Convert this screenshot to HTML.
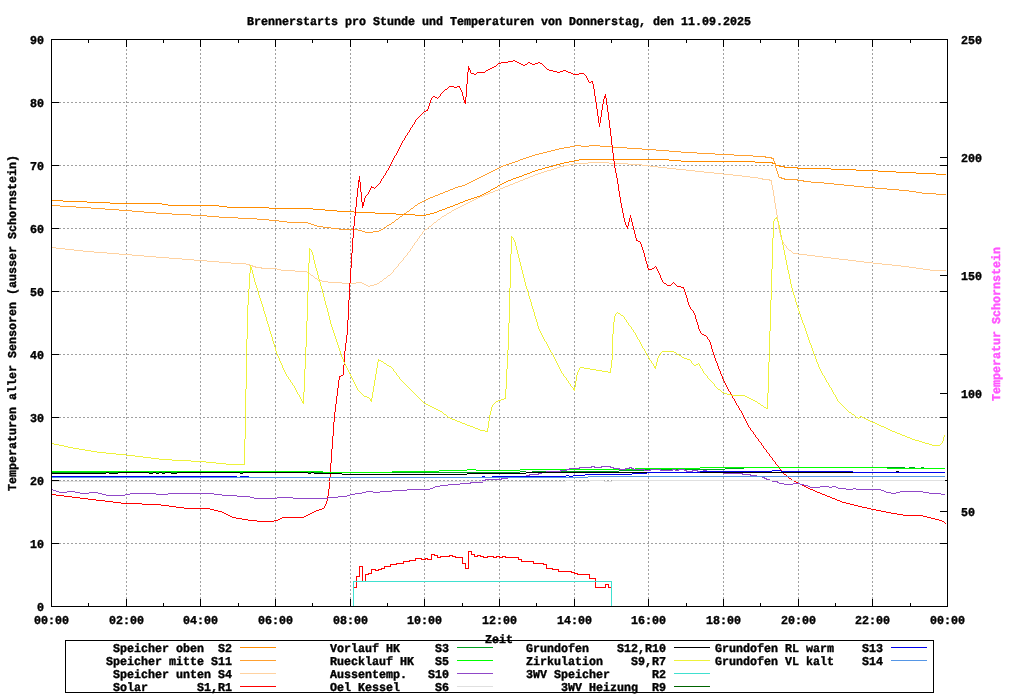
<!DOCTYPE html>
<html lang="de"><head><meta charset="utf-8"><title>Brennerstarts pro Stunde und Temperaturen</title>
<style>html,body{margin:0;padding:0;background:#fff;overflow:hidden}svg{display:block}text{font-family:"Liberation Mono","DejaVu Sans Mono",monospace;font-weight:bold;font-size:12px;white-space:pre;text-rendering:geometricPrecision;stroke-width:0.4px;stroke-linejoin:round}</style></head><body>
<svg width="1024" height="700" viewBox="0 0 1024 700">
<rect x="0" y="0" width="1024" height="700" fill="#fff"/>
<g shape-rendering="crispEdges" fill="none" stroke-linecap="butt" stroke-linejoin="miter">
<g stroke="#a0a0a0" stroke-width="1" stroke-dasharray="2 2">
<line x1="126.5" y1="607" x2="126.5" y2="39"/>
<line x1="200.5" y1="607" x2="200.5" y2="39"/>
<line x1="275.5" y1="607" x2="275.5" y2="39"/>
<line x1="350.5" y1="607" x2="350.5" y2="39"/>
<line x1="424.5" y1="607" x2="424.5" y2="39"/>
<line x1="499.5" y1="607" x2="499.5" y2="39"/>
<line x1="574.5" y1="607" x2="574.5" y2="39"/>
<line x1="648.5" y1="607" x2="648.5" y2="39"/>
<line x1="723.5" y1="607" x2="723.5" y2="39"/>
<line x1="798.5" y1="607" x2="798.5" y2="39"/>
<line x1="872.5" y1="607" x2="872.5" y2="39"/>
<line x1="51" y1="543.5" x2="948" y2="543.5"/>
<line x1="51" y1="480.5" x2="948" y2="480.5"/>
<line x1="51" y1="417.5" x2="948" y2="417.5"/>
<line x1="51" y1="354.5" x2="948" y2="354.5"/>
<line x1="51" y1="291.5" x2="948" y2="291.5"/>
<line x1="51" y1="228.5" x2="948" y2="228.5"/>
<line x1="51" y1="165.5" x2="948" y2="165.5"/>
<line x1="51" y1="102.5" x2="948" y2="102.5"/>
</g>
<g stroke="#000" stroke-width="1">
<line x1="126.5" y1="606" x2="126.5" y2="599"/>
<line x1="126.5" y1="40" x2="126.5" y2="47"/>
<line x1="200.5" y1="606" x2="200.5" y2="599"/>
<line x1="200.5" y1="40" x2="200.5" y2="47"/>
<line x1="275.5" y1="606" x2="275.5" y2="599"/>
<line x1="275.5" y1="40" x2="275.5" y2="47"/>
<line x1="350.5" y1="606" x2="350.5" y2="599"/>
<line x1="350.5" y1="40" x2="350.5" y2="47"/>
<line x1="424.5" y1="606" x2="424.5" y2="599"/>
<line x1="424.5" y1="40" x2="424.5" y2="47"/>
<line x1="499.5" y1="606" x2="499.5" y2="599"/>
<line x1="499.5" y1="40" x2="499.5" y2="47"/>
<line x1="574.5" y1="606" x2="574.5" y2="599"/>
<line x1="574.5" y1="40" x2="574.5" y2="47"/>
<line x1="648.5" y1="606" x2="648.5" y2="599"/>
<line x1="648.5" y1="40" x2="648.5" y2="47"/>
<line x1="723.5" y1="606" x2="723.5" y2="599"/>
<line x1="723.5" y1="40" x2="723.5" y2="47"/>
<line x1="798.5" y1="606" x2="798.5" y2="599"/>
<line x1="798.5" y1="40" x2="798.5" y2="47"/>
<line x1="872.5" y1="606" x2="872.5" y2="599"/>
<line x1="872.5" y1="40" x2="872.5" y2="47"/>
<line x1="88.5" y1="606" x2="88.5" y2="603"/>
<line x1="88.5" y1="40" x2="88.5" y2="43"/>
<line x1="163.5" y1="606" x2="163.5" y2="603"/>
<line x1="163.5" y1="40" x2="163.5" y2="43"/>
<line x1="238.5" y1="606" x2="238.5" y2="603"/>
<line x1="238.5" y1="40" x2="238.5" y2="43"/>
<line x1="312.5" y1="606" x2="312.5" y2="603"/>
<line x1="312.5" y1="40" x2="312.5" y2="43"/>
<line x1="387.5" y1="606" x2="387.5" y2="603"/>
<line x1="387.5" y1="40" x2="387.5" y2="43"/>
<line x1="462.5" y1="606" x2="462.5" y2="603"/>
<line x1="462.5" y1="40" x2="462.5" y2="43"/>
<line x1="536.5" y1="606" x2="536.5" y2="603"/>
<line x1="536.5" y1="40" x2="536.5" y2="43"/>
<line x1="611.5" y1="606" x2="611.5" y2="603"/>
<line x1="611.5" y1="40" x2="611.5" y2="43"/>
<line x1="686.5" y1="606" x2="686.5" y2="603"/>
<line x1="686.5" y1="40" x2="686.5" y2="43"/>
<line x1="760.5" y1="606" x2="760.5" y2="603"/>
<line x1="760.5" y1="40" x2="760.5" y2="43"/>
<line x1="835.5" y1="606" x2="835.5" y2="603"/>
<line x1="835.5" y1="40" x2="835.5" y2="43"/>
<line x1="910.5" y1="606" x2="910.5" y2="603"/>
<line x1="910.5" y1="40" x2="910.5" y2="43"/>
<line x1="52" y1="543.5" x2="59" y2="543.5"/>
<line x1="947" y1="543.5" x2="940" y2="543.5"/>
<line x1="52" y1="480.5" x2="59" y2="480.5"/>
<line x1="947" y1="480.5" x2="940" y2="480.5"/>
<line x1="52" y1="417.5" x2="59" y2="417.5"/>
<line x1="947" y1="417.5" x2="940" y2="417.5"/>
<line x1="52" y1="354.5" x2="59" y2="354.5"/>
<line x1="947" y1="354.5" x2="940" y2="354.5"/>
<line x1="52" y1="291.5" x2="59" y2="291.5"/>
<line x1="947" y1="291.5" x2="940" y2="291.5"/>
<line x1="52" y1="228.5" x2="59" y2="228.5"/>
<line x1="947" y1="228.5" x2="940" y2="228.5"/>
<line x1="52" y1="165.5" x2="59" y2="165.5"/>
<line x1="947" y1="165.5" x2="940" y2="165.5"/>
<line x1="52" y1="102.5" x2="59" y2="102.5"/>
<line x1="947" y1="102.5" x2="940" y2="102.5"/>
<line x1="947" y1="511.5" x2="940" y2="511.5"/>
<line x1="947" y1="393.5" x2="940" y2="393.5"/>
<line x1="947" y1="275.5" x2="940" y2="275.5"/>
<line x1="947" y1="157.5" x2="940" y2="157.5"/>
</g>
<path d="M579 159.5h90M574 160.5h5M669 160.5h12M569 161.5h5M681 161.5h74M564 162.5h5M755 162.5h18M560 163.5h4M772 163.5h4M556 164.5h4M553 165.5h3M776 165.5h4M549 166.5h4M779 166.5h6M545 167.5h4M784 167.5h14M542 168.5h3M797 168.5h34M538 169.5h4M831 169.5h25M535 170.5h3M856 170.5h22M532 171.5h3M878 171.5h18M530 172.5h2M896 172.5h20M527 173.5h3M916 173.5h20M524 174.5h3M936 174.5h10M522 175.5h2M519 176.5h3M516 177.5h3M513 178.5h3M511 179.5h2M508 180.5h3M506 181.5h2M504 182.5h2M502 183.5h2M500 184.5h2M498 185.5h2M495 187.5h2M493 188.5h2M491 189.5h2M488 191.5h2M486 192.5h2M484 193.5h2M482 194.5h2M480 195.5h2M477 196.5h3M474 197.5h3M471 198.5h3M468 199.5h3M51 200.5h12M465 200.5h3M63 201.5h24M463 201.5h2M87 202.5h23M460 202.5h3M110 203.5h52M458 203.5h2M162 204.5h6M455 204.5h3M168 205.5h51M453 205.5h2M219 206.5h8M450 206.5h3M227 207.5h42M447 207.5h3M269 208.5h44M445 208.5h2M313 209.5h12M442 209.5h3M325 210.5h12M439 210.5h3M337 211.5h17M437 211.5h2M354 212.5h21M434 212.5h3M375 213.5h21M430 213.5h4M396 214.5h19M426 214.5h4M415 215.5h11M490.5 190v1M497.5 186v1M775.5 164v1" stroke="#ff8c00" stroke-width="1"/>
<path d="M575 145.5h6M589 145.5h11M570 146.5h5M581 146.5h8M600 146.5h13M564 147.5h6M613 147.5h14M559 148.5h5M627 148.5h15M555 149.5h4M642 149.5h14M551 150.5h4M656 150.5h13M547 151.5h4M669 151.5h12M543 152.5h4M681 152.5h16M539 153.5h4M697 153.5h18M535 154.5h4M715 154.5h19M532 155.5h3M734 155.5h19M529 156.5h3M753 156.5h13M526 157.5h3M765 157.5h7M523 158.5h3M771 158.5h3M520 159.5h3M518 160.5h2M515 161.5h3M512 162.5h3M509 163.5h3M506 164.5h3M503 165.5h3M501 166.5h2M499 167.5h2M497 168.5h2M495 169.5h2M493 170.5h2M491 171.5h2M489 172.5h2M487 173.5h2M485 174.5h2M483 175.5h2M481 176.5h2M479 177.5h2M779 177.5h3M477 178.5h2M781 178.5h4M475 179.5h2M784 179.5h14M473 180.5h2M797 180.5h7M471 181.5h2M803 181.5h8M469 182.5h2M811 182.5h13M467 183.5h2M824 183.5h10M465 184.5h2M834 184.5h10M462 185.5h3M844 185.5h10M458 186.5h4M854 186.5h10M455 187.5h3M864 187.5h11M453 188.5h2M875 188.5h12M450 189.5h3M887 189.5h12M448 190.5h2M899 190.5h10M445 191.5h3M909 191.5h7M443 192.5h2M916 192.5h6M440 193.5h3M922 193.5h14M438 194.5h2M936 194.5h10M435 195.5h3M433 196.5h2M430 197.5h3M428 198.5h2M426 199.5h2M424 200.5h2M422 201.5h2M420 202.5h2M418 203.5h2M51 205.5h9M415 205.5h2M60 206.5h16M76 207.5h15M91 208.5h14M411 208.5h2M105 209.5h14M119 210.5h13M132 211.5h12M407 211.5h2M144 212.5h12M156 213.5h16M404 213.5h2M172 214.5h19M191 215.5h16M207 216.5h12M400 216.5h2M219 217.5h19M238 218.5h19M257 219.5h12M396 219.5h2M269 220.5h10M279 221.5h8M287 222.5h21M392 222.5h2M308 223.5h3M311 224.5h3M389 224.5h2M314 225.5h3M387 225.5h2M317 226.5h6M323 227.5h8M384 227.5h2M331 228.5h8M339 229.5h19M381 229.5h2M358 230.5h4M379 230.5h2M362 231.5h3M373 231.5h6M365 232.5h8M383.5 228v1M386.5 226v1M391.5 223v1M394.5 221v1M395.5 220v1M398.5 218v1M399.5 217v1M402.5 215v1M403.5 214v1M406.5 212v1M409.5 210v1M410.5 209v1M413.5 207v1M414.5 206v1M417.5 204v1M773.5 159v2M774.5 161v2M775.5 163v5M776.5 168v3M777.5 171v3M778.5 174v3" stroke="#ffa030" stroke-width="1"/>
<path d="M588 162.5h21M574 163.5h14M609 163.5h19M569 164.5h5M628 164.5h14M564 165.5h5M642 165.5h8M560 166.5h4M650 166.5h8M557 167.5h3M658 167.5h9M554 168.5h3M667 168.5h9M551 169.5h3M676 169.5h10M547 170.5h4M686 170.5h9M544 171.5h3M695 171.5h9M541 172.5h3M704 172.5h10M538 173.5h3M714 173.5h9M535 174.5h3M723 174.5h10M533 175.5h2M733 175.5h9M530 176.5h3M742 176.5h8M528 177.5h2M750 177.5h8M525 178.5h3M758 178.5h5M523 179.5h2M762 179.5h8M520 180.5h3M769 180.5h3M518 181.5h2M515 182.5h3M513 183.5h2M510 184.5h3M508 185.5h2M505 186.5h3M503 187.5h2M500 188.5h3M498 189.5h2M495 190.5h3M493 191.5h2M490 192.5h3M488 193.5h2M485 194.5h3M483 195.5h2M480 196.5h3M478 197.5h2M476 198.5h2M474 199.5h2M472 200.5h2M470 201.5h2M468 202.5h2M466 203.5h2M464 204.5h2M462 205.5h2M460 206.5h2M458 207.5h2M456 208.5h2M454 209.5h2M452 210.5h2M449 212.5h2M447 213.5h2M444 215.5h2M442 216.5h2M438 219.5h2M434 222.5h2M429 226.5h2M425 229.5h2M51 247.5h5M56 248.5h9M65 249.5h9M74 250.5h9M789 250.5h2M83 251.5h11M94 252.5h13M107 253.5h12M793 253.5h5M119 254.5h13M798 254.5h9M132 255.5h12M807 255.5h8M144 256.5h12M815 256.5h8M156 257.5h13M823 257.5h8M169 258.5h13M831 258.5h8M182 259.5h12M839 259.5h9M194 260.5h13M848 260.5h8M207 261.5h12M856 261.5h8M219 262.5h12M864 262.5h9M231 263.5h15M873 263.5h9M246 264.5h4M882 264.5h10M249 265.5h4M892 265.5h9M252 266.5h4M901 266.5h8M255 267.5h7M909 267.5h7M261 268.5h16M916 268.5h7M277 269.5h4M923 269.5h7M281 270.5h14M930 270.5h16M295 271.5h12M307 272.5h2M311 275.5h2M388 275.5h2M315 278.5h2M384 278.5h2M318 280.5h4M322 281.5h6M380 281.5h2M328 282.5h14M356 282.5h6M342 283.5h14M362 283.5h2M377 283.5h2M364 284.5h2M374 284.5h3M366 285.5h2M370 285.5h4M368 286.5h2M309.5 273v1M310.5 274v1M313.5 276v1M314.5 277v1M317.5 279v1M379.5 282v1M382.5 280v1M383.5 279v1M386.5 277v1M387.5 276v1M390.5 274v1M391.5 273v1M392.5 272v1M393.5 270v2M394.5 269v1M395.5 268v1M396.5 267v1M397.5 266v1M398.5 264v2M399.5 263v1M400.5 262v1M401.5 261v1M402.5 260v1M403.5 258v2M404.5 257v1M405.5 256v1M406.5 255v1M407.5 253v2M408.5 252v1M409.5 251v1M410.5 249v2M411.5 248v1M412.5 246v2M413.5 245v1M414.5 243v2M415.5 242v1M416.5 241v1M417.5 239v2M418.5 238v1M419.5 236v2M420.5 235v1M421.5 234v1M422.5 232v2M423.5 231v1M424.5 230v1M427.5 228v1M428.5 227v1M431.5 225v1M432.5 224v1M433.5 223v1M436.5 221v1M437.5 220v1M440.5 218v1M441.5 217v1M446.5 214v1M451.5 211v1M771.5 181v4M772.5 185v5M773.5 190v6M774.5 196v7M775.5 203v6M776.5 209v6M777.5 215v7M778.5 222v7M779.5 229v4M780.5 233v4M781.5 237v3M782.5 240v2M783.5 242v2M784.5 244v1M785.5 245v1M786.5 246v2M787.5 248v1M788.5 249v1M791.5 251v1M792.5 252v1" stroke="#ffd2a0" stroke-width="1"/>
<path d="M513 60.5h2M508 61.5h5M515 61.5h2M501 62.5h7M517 62.5h2M528 62.5h2M538 62.5h2M498 63.5h3M519 63.5h2M530 63.5h2M535 63.5h3M540 63.5h2M521 64.5h2M525 64.5h2M532 64.5h3M523 65.5h2M494 66.5h2M492 67.5h2M468 68.5h2M490 68.5h2M468 69.5h2M488 69.5h2M547 69.5h2M486 70.5h2M549 70.5h4M563 70.5h3M553 71.5h4M560 71.5h3M566 71.5h2M477 72.5h8M557 72.5h3M568 72.5h3M471 73.5h3M571 73.5h2M579 73.5h5M474 74.5h2M573 74.5h6M591 81.5h2M589 82.5h2M449 86.5h5M457 86.5h3M454 87.5h3M445 89.5h2M433 96.5h2M604 96.5h2M435 97.5h2M604 97.5h2M464 100.5h2M464 101.5h2M464 102.5h2M426 110.5h2M424 111.5h2M358 180.5h2M358 181.5h2M371 187.5h3M362 202.5h2M362 203.5h2M362 204.5h2M362 205.5h2M626 226.5h2M636 240.5h2M638 241.5h2M652 268.5h2M648 269.5h4M664 283.5h2M667 285.5h4M677 286.5h4M681 287.5h3M702 334.5h2M704 335.5h2M341 375.5h2M339 376.5h2M784 474.5h2M789 478.5h2M792 480.5h2M794 481.5h2M796 482.5h2M798 483.5h2M800 484.5h2M802 485.5h2M804 486.5h2M806 487.5h2M808 488.5h2M810 489.5h3M813 490.5h2M815 491.5h2M817 492.5h3M820 493.5h2M51 494.5h5M822 494.5h3M56 495.5h8M825 495.5h2M64 496.5h8M827 496.5h3M72 497.5h8M830 497.5h2M80 498.5h8M832 498.5h3M88 499.5h8M835 499.5h2M96 500.5h9M837 500.5h3M105 501.5h8M840 501.5h2M113 502.5h8M842 502.5h4M121 503.5h21M846 503.5h4M142 504.5h19M850 504.5h4M161 505.5h8M854 505.5h4M169 506.5h7M858 506.5h4M176 507.5h8M862 507.5h5M184 508.5h26M322 508.5h2M867 508.5h4M210 509.5h4M319 509.5h3M871 509.5h5M214 510.5h4M316 510.5h3M876 510.5h5M218 511.5h4M314 511.5h2M881 511.5h5M222 512.5h2M312 512.5h2M886 512.5h5M224 513.5h2M310 513.5h2M891 513.5h6M226 514.5h2M308 514.5h2M897 514.5h6M228 515.5h2M306 515.5h2M903 515.5h20M230 516.5h2M304 516.5h2M923 516.5h4M232 517.5h4M282 517.5h22M927 517.5h4M236 518.5h6M280 518.5h2M931 518.5h4M242 519.5h6M278 519.5h2M935 519.5h4M248 520.5h9M274 520.5h4M939 520.5h3M257 521.5h17M942 521.5h2M324.5 506v2M325.5 504v2M326.5 501v3M327.5 496v5M328.5 489v7M329.5 477v12M330.5 463v14M331.5 449v14M332.5 436v13M333.5 422v14M334.5 412v10M335.5 404v8M336.5 396v8M337.5 388v8M338.5 380v8M339.5 377v3M343.5 365v10M344.5 351v14M345.5 343v8M346.5 335v8M347.5 320v15M348.5 300v20M349.5 283v17M350.5 268v15M351.5 253v15M352.5 238v15M353.5 226v12M354.5 216v10M355.5 207v9M356.5 197v10M357.5 188v9M358.5 182v6M359.5 176v4M360.5 182v10M361.5 192v10M362.5 206v2M364.5 198v4M365.5 196v2M366.5 195v1M367.5 194v1M368.5 192v2M369.5 190v2M370.5 188v2M371.5 186v1M374.5 188v1M375.5 187v1M376.5 186v1M377.5 185v1M378.5 184v1M379.5 183v1M380.5 181v2M381.5 179v2M382.5 178v1M383.5 176v2M384.5 175v1M385.5 173v2M386.5 171v2M387.5 170v1M388.5 168v2M389.5 166v2M390.5 164v2M391.5 162v2M392.5 160v2M393.5 158v2M394.5 156v2M395.5 155v1M396.5 153v2M397.5 151v2M398.5 149v2M399.5 147v2M400.5 145v2M401.5 143v2M402.5 141v2M403.5 140v1M404.5 138v2M405.5 136v2M406.5 135v1M407.5 133v2M408.5 132v1M409.5 130v2M410.5 128v2M411.5 127v1M412.5 125v2M413.5 124v1M414.5 122v2M415.5 120v2M416.5 119v1M417.5 118v1M418.5 117v1M419.5 116v1M420.5 115v1M421.5 114v1M422.5 113v1M423.5 112v1M427.5 109v1M428.5 106v3M429.5 103v3M430.5 100v3M431.5 98v2M432.5 97v1M437.5 98v1M438.5 97v1M439.5 96v1M440.5 94v2M441.5 93v1M442.5 92v1M443.5 91v1M444.5 90v1M447.5 88v1M448.5 87v1M459.5 87v1M460.5 88v2M461.5 90v2M462.5 92v4M463.5 96v4M465.5 97v3M465.5 103v1M466.5 84v13M467.5 72v12M468.5 66v2M468.5 70v2M470.5 70v3M476.5 73v1M485.5 71v1M496.5 65v1M497.5 64v1M527.5 63v1M542.5 64v1M543.5 65v1M544.5 66v1M545.5 67v1M546.5 68v1M584.5 74v1M585.5 75v1M586.5 76v2M587.5 78v2M588.5 80v2M592.5 82v2M593.5 84v5M594.5 89v7M595.5 96v6M596.5 102v7M597.5 109v7M598.5 116v7M599.5 123v4M600.5 117v6M601.5 110v7M602.5 104v6M603.5 99v5M604.5 98v1M605.5 94v2M606.5 98v7M607.5 105v7M608.5 112v8M609.5 120v8M610.5 128v8M611.5 136v9M612.5 145v8M613.5 153v8M614.5 161v7M615.5 168v5M616.5 173v5M617.5 178v6M618.5 184v7M619.5 191v6M620.5 197v6M621.5 203v5M622.5 208v5M623.5 213v5M624.5 218v4M625.5 222v3M626.5 225v1M627.5 227v2M628.5 222v4M629.5 218v4M630.5 215v3M631.5 218v4M632.5 222v4M633.5 226v4M634.5 230v4M635.5 234v4M636.5 238v2M640.5 242v2M641.5 244v3M642.5 247v3M643.5 250v3M644.5 253v4M645.5 257v4M646.5 261v3M647.5 264v4M648.5 268v1M654.5 267v1M655.5 266v1M656.5 267v2M657.5 269v2M658.5 271v2M659.5 273v2M660.5 275v3M661.5 278v2M662.5 280v2M663.5 282v1M666.5 284v1M671.5 284v1M672.5 283v1M673.5 282v1M674.5 283v1M675.5 284v1M676.5 285v1M683.5 288v1M684.5 289v3M685.5 292v3M686.5 295v3M687.5 298v4M688.5 302v3M689.5 305v2M690.5 307v2M691.5 309v1M692.5 310v1M693.5 311v2M694.5 313v2M695.5 315v4M696.5 319v3M697.5 322v3M698.5 325v4M699.5 329v2M700.5 331v2M701.5 333v1M706.5 336v1M707.5 337v2M708.5 339v1M709.5 340v2M710.5 342v3M711.5 345v4M712.5 349v3M713.5 352v3M714.5 355v3M715.5 358v3M716.5 361v2M717.5 363v3M718.5 366v3M719.5 369v2M720.5 371v3M721.5 374v2M722.5 376v3M723.5 379v2M724.5 381v2M725.5 383v2M726.5 385v2M727.5 387v2M728.5 389v2M729.5 391v1M730.5 392v2M731.5 394v2M732.5 396v2M733.5 398v1M734.5 399v2M735.5 401v2M736.5 403v2M737.5 405v1M738.5 406v2M739.5 408v2M740.5 410v1M741.5 411v2M742.5 413v2M743.5 415v2M744.5 417v2M745.5 419v2M746.5 421v2M747.5 423v2M748.5 425v2M749.5 427v1M750.5 428v2M751.5 430v1M752.5 431v1M753.5 432v2M754.5 434v1M755.5 435v2M756.5 437v1M757.5 438v1M758.5 439v2M759.5 441v1M760.5 442v1M761.5 443v2M762.5 445v1M763.5 446v2M764.5 448v1M765.5 449v1M766.5 450v2M767.5 452v1M768.5 453v1M769.5 454v2M770.5 456v1M771.5 457v1M772.5 458v2M773.5 460v1M774.5 461v1M775.5 462v2M776.5 464v1M777.5 465v1M778.5 466v2M779.5 468v1M780.5 469v1M781.5 470v2M782.5 472v1M783.5 473v1M786.5 475v1M787.5 476v1M788.5 477v1M791.5 479v1M944.5 522v1M945.5 523v1" stroke="#ff0000" stroke-width="1"/>
<path d="M468 551.5h4M431 554.5h4M471 554.5h4M434 555.5h4M449 555.5h4M477 555.5h4M440 556.5h10M452 556.5h4M474 556.5h4M480 556.5h4M487 556.5h7M496 556.5h4M502 556.5h4M437 557.5h4M455 557.5h8M483 557.5h5M493 557.5h4M499 557.5h4M505 557.5h14M415 558.5h7M425 558.5h3M421 559.5h5M427 559.5h5M518 559.5h4M409 560.5h7M403 561.5h7M521 561.5h13M396 563.5h8M462 563.5h4M533 563.5h11M390 564.5h7M543 564.5h4M359 566.5h4M384 566.5h7M381 568.5h4M465 568.5h4M546 568.5h7M371 569.5h5M378 569.5h4M552 569.5h7M375 570.5h4M558 571.5h14M571 572.5h4M368 573.5h4M574 573.5h4M365 574.5h4M577 574.5h13M356 576.5h4M589 578.5h7M362 581.5h4M605 584.5h4M354 587.5h3M595 587.5h11M608 587.5h4M356.5 577v10M359.5 567v9M362.5 567v14M365.5 575v6M371.5 570v3M384.5 567v1M390.5 565v1M403.5 562v1M415.5 559v1M431.5 555v4M437.5 556v1M462.5 558v5M465.5 564v4M468.5 552v16M471.5 552v2M474.5 555v1M518.5 558v1M521.5 560v1M533.5 562v1M546.5 565v3M558.5 570v1M589.5 575v3M595.5 579v8M605.5 585v2M608.5 585v2" stroke="#ff0000" stroke-width="1"/>
<rect x="52" y="472" width="271" height="1" fill="#00a020" stroke="none"/>
<rect x="323" y="472" width="197" height="1" fill="#00a020" stroke="none"/>
<rect x="520" y="471" width="6" height="1" fill="#00a020" stroke="none"/>
<rect x="526" y="472" width="6" height="1" fill="#00a020" stroke="none"/>
<rect x="532" y="471" width="87" height="1" fill="#00a020" stroke="none"/>
<rect x="619" y="470" width="25" height="1" fill="#00a020" stroke="none"/>
<rect x="644" y="469" width="81" height="1" fill="#00a020" stroke="none"/>
<rect x="725" y="468" width="19" height="1" fill="#00a020" stroke="none"/>
<rect x="744" y="467" width="143" height="1" fill="#00a020" stroke="none"/>
<rect x="887" y="467" width="18" height="1" fill="#00a020" stroke="none"/>
<rect x="909" y="467" width="6" height="1" fill="#00a020" stroke="none"/>
<rect x="921" y="467" width="3" height="1" fill="#00a020" stroke="none"/>
<rect x="52" y="471" width="271" height="1" fill="#00ff00" stroke="none"/>
<rect x="323" y="472" width="69" height="1" fill="#00ff00" stroke="none"/>
<rect x="392" y="471" width="47" height="1" fill="#00ff00" stroke="none"/>
<rect x="439" y="470" width="28" height="1" fill="#00ff00" stroke="none"/>
<rect x="467" y="469" width="9" height="1" fill="#00ff00" stroke="none"/>
<rect x="476" y="470" width="44" height="1" fill="#00ff00" stroke="none"/>
<rect x="520" y="469" width="115" height="1" fill="#00ff00" stroke="none"/>
<rect x="635" y="468" width="65" height="1" fill="#00ff00" stroke="none"/>
<rect x="700" y="467" width="187" height="1" fill="#00ff00" stroke="none"/>
<rect x="887" y="468" width="58" height="1" fill="#00ff00" stroke="none"/>
<path d="M591 466.5h4M601 466.5h10M579 467.5h13M594 467.5h8M610 467.5h4M629 467.5h3M569 468.5h11M613 468.5h7M625 468.5h5M631 468.5h3M566 469.5h4M619 469.5h7M633 469.5h12M650 469.5h11M672 469.5h4M678 469.5h7M560 470.5h7M644 470.5h7M660 470.5h13M675 470.5h4M684 470.5h3M692 470.5h6M703 470.5h4M546 471.5h15M686 471.5h7M697 471.5h7M706 471.5h7M541 472.5h6M712 472.5h12M538 473.5h4M723 473.5h20M529 474.5h10M742 474.5h9M526 475.5h4M750 475.5h7M515 476.5h12M756 476.5h7M507 477.5h9M762 477.5h3M501 478.5h7M764 478.5h3M485 479.5h17M766 479.5h4M482 480.5h4M769 480.5h4M772 481.5h6M470 482.5h13M777 482.5h2M460 483.5h11M779 483.5h5M793 483.5h7M448 484.5h12M784 484.5h9M800 484.5h4M440 485.5h8M804 485.5h4M435 486.5h5M808 486.5h2M820 486.5h9M832 486.5h4M433 487.5h2M810 487.5h10M829 487.5h3M836 487.5h2M430 488.5h3M838 488.5h8M853 488.5h3M51 489.5h2M407 489.5h23M846 489.5h7M856 489.5h25M53 490.5h3M392 490.5h15M881 490.5h3M56 491.5h3M67 491.5h8M366 491.5h7M380 491.5h12M884 491.5h2M900 491.5h23M59 492.5h8M75 492.5h5M89 492.5h9M362 492.5h4M373 492.5h7M886 492.5h5M896 492.5h4M923 492.5h6M80 493.5h9M98 493.5h4M130 493.5h26M168 493.5h46M355 493.5h7M891 493.5h5M929 493.5h12M102 494.5h4M125 494.5h5M156 494.5h12M214 494.5h8M350 494.5h5M941 494.5h4M106 495.5h19M222 495.5h15M347 495.5h3M237 496.5h13M338 496.5h9M250 497.5h4M277 497.5h16M328 497.5h10M254 498.5h23M293 498.5h35M482.5 481v1" stroke="#9048c8" stroke-width="1"/>
<rect x="52" y="481" width="514" height="1" fill="#e0e0e0" stroke="none"/>
<rect x="566" y="480" width="10" height="1" fill="#e0e0e0" stroke="none"/>
<rect x="576" y="481" width="14" height="1" fill="#e0e0e0" stroke="none"/>
<rect x="590" y="480" width="14" height="1" fill="#e0e0e0" stroke="none"/>
<rect x="604" y="481" width="8" height="1" fill="#e0e0e0" stroke="none"/>
<rect x="612" y="480" width="333" height="1" fill="#e0e0e0" stroke="none"/>
<rect x="52" y="473" width="54" height="1" fill="#000" stroke="none"/>
<rect x="106" y="472" width="3" height="1" fill="#000" stroke="none"/>
<rect x="109" y="473" width="9" height="1" fill="#000" stroke="none"/>
<rect x="118" y="472" width="31" height="1" fill="#000" stroke="none"/>
<rect x="149" y="473" width="4" height="1" fill="#000" stroke="none"/>
<rect x="153" y="472" width="3" height="1" fill="#000" stroke="none"/>
<rect x="156" y="473" width="3" height="1" fill="#000" stroke="none"/>
<rect x="159" y="472" width="3" height="1" fill="#000" stroke="none"/>
<rect x="162" y="473" width="3" height="1" fill="#000" stroke="none"/>
<rect x="165" y="472" width="6" height="1" fill="#000" stroke="none"/>
<rect x="171" y="473" width="6" height="1" fill="#000" stroke="none"/>
<rect x="177" y="472" width="63" height="1" fill="#000" stroke="none"/>
<rect x="240" y="473" width="3" height="1" fill="#000" stroke="none"/>
<rect x="243" y="472" width="65" height="1" fill="#000" stroke="none"/>
<rect x="308" y="473" width="3" height="1" fill="#000" stroke="none"/>
<rect x="311" y="472" width="3" height="1" fill="#000" stroke="none"/>
<rect x="314" y="473" width="28" height="1" fill="#000" stroke="none"/>
<rect x="342" y="474" width="125" height="1" fill="#000" stroke="none"/>
<rect x="467" y="473" width="59" height="1" fill="#000" stroke="none"/>
<rect x="526" y="472" width="327" height="1" fill="#000" stroke="none"/>
<rect x="896" y="471" width="3" height="1" fill="#000" stroke="none"/>
<path d="M775 218.5h2M511 237.5h2M309 249.5h2M250 267.5h2M250 268.5h2M250 269.5h2M618 313.5h2M621 315.5h2M662 351.5h12M674 352.5h2M677 354.5h2M679 355.5h2M682 357.5h2M684 358.5h3M687 359.5h3M378 360.5h3M381 361.5h2M384 363.5h2M696 364.5h2M387 365.5h2M694 365.5h2M389 366.5h2M654 366.5h2M580 367.5h4M654 367.5h2M584 368.5h6M590 369.5h6M596 370.5h6M602 371.5h6M608 372.5h3M573 388.5h2M573 389.5h2M718 389.5h2M722 392.5h2M724 393.5h3M727 394.5h4M731 395.5h14M364 396.5h3M745 396.5h2M367 397.5h2M747 397.5h2M504 398.5h2M749 398.5h2M370 399.5h2M501 399.5h3M751 399.5h2M370 400.5h2M498 400.5h3M753 400.5h2M302 401.5h2M496 401.5h2M755 401.5h2M302 402.5h2M424 403.5h2M758 403.5h2M426 404.5h2M428 405.5h2M761 405.5h2M430 406.5h2M432 407.5h2M764 407.5h2M434 408.5h2M766 408.5h2M436 409.5h2M438 410.5h2M440 411.5h2M849 412.5h2M444 414.5h2M852 414.5h2M860 416.5h2M448 417.5h2M856 417.5h2M862 417.5h2M450 418.5h2M864 418.5h2M452 419.5h3M866 419.5h2M455 420.5h2M868 420.5h2M457 421.5h3M870 421.5h2M460 422.5h2M872 422.5h3M462 423.5h3M875 423.5h2M465 424.5h2M877 424.5h2M467 425.5h3M879 425.5h2M470 426.5h3M881 426.5h3M473 427.5h2M884 427.5h2M475 428.5h3M886 428.5h2M478 429.5h2M888 429.5h2M480 430.5h5M890 430.5h2M485 431.5h3M892 431.5h3M895 432.5h2M897 433.5h3M900 434.5h2M902 435.5h3M905 436.5h2M907 437.5h3M910 438.5h2M912 439.5h3M915 440.5h4M919 441.5h3M922 442.5h3M51 443.5h3M925 443.5h4M54 444.5h5M929 444.5h3M59 445.5h5M932 445.5h8M64 446.5h4M68 447.5h5M73 448.5h6M79 449.5h6M85 450.5h6M91 451.5h6M97 452.5h9M106 453.5h10M116 454.5h10M126 455.5h9M135 456.5h8M143 457.5h8M151 458.5h8M159 459.5h13M172 460.5h19M191 461.5h15M206 462.5h10M216 463.5h10M226 464.5h19M244.5 439v25M245.5 389v50M246.5 339v50M247.5 305v34M248.5 289v16M249.5 273v16M250.5 265v2M250.5 270v3M252.5 270v4M253.5 274v4M254.5 278v4M255.5 282v3M256.5 285v3M257.5 288v3M258.5 291v4M259.5 295v3M260.5 298v3M261.5 301v3M262.5 304v3M263.5 307v4M264.5 311v3M265.5 314v3M266.5 317v4M267.5 321v3M268.5 324v3M269.5 327v4M270.5 331v3M271.5 334v3M272.5 337v4M273.5 341v3M274.5 344v3M275.5 347v4M276.5 351v3M277.5 354v2M278.5 356v2M279.5 358v3M280.5 361v2M281.5 363v2M282.5 365v3M283.5 368v2M284.5 370v2M285.5 372v2M286.5 374v2M287.5 376v1M288.5 377v2M289.5 379v1M290.5 380v2M291.5 382v1M292.5 383v2M293.5 385v1M294.5 386v2M295.5 388v2M296.5 390v2M297.5 392v2M298.5 394v1M299.5 395v2M300.5 397v2M301.5 399v2M303.5 392v9M303.5 403v1M304.5 369v23M305.5 347v22M306.5 321v26M307.5 292v29M308.5 263v29M309.5 248v1M309.5 250v13M311.5 250v2M312.5 252v3M313.5 255v5M314.5 260v4M315.5 264v4M316.5 268v3M317.5 271v4M318.5 275v4M319.5 279v3M320.5 282v4M321.5 286v3M322.5 289v4M323.5 293v4M324.5 297v4M325.5 301v4M326.5 305v3M327.5 308v4M328.5 312v4M329.5 316v4M330.5 320v4M331.5 324v3M332.5 327v3M333.5 330v3M334.5 333v3M335.5 336v3M336.5 339v3M337.5 342v3M338.5 345v3M339.5 348v3M340.5 351v3M341.5 354v3M342.5 357v2M343.5 359v3M344.5 362v2M345.5 364v2M346.5 366v2M347.5 368v2M348.5 370v2M349.5 372v2M350.5 374v2M351.5 376v2M352.5 378v2M353.5 380v2M354.5 382v2M355.5 384v2M356.5 386v2M357.5 388v2M358.5 390v1M359.5 391v1M360.5 392v1M361.5 393v1M362.5 394v1M363.5 395v1M369.5 398v1M371.5 398v1M371.5 401v1M372.5 392v6M373.5 386v6M374.5 380v6M375.5 374v6M376.5 368v6M377.5 362v6M378.5 359v1M378.5 361v1M383.5 362v1M386.5 364v1M391.5 367v1M392.5 368v1M393.5 369v2M394.5 371v1M395.5 372v1M396.5 373v2M397.5 375v1M398.5 376v1M399.5 377v2M400.5 379v1M401.5 380v1M402.5 381v1M403.5 382v1M404.5 383v1M405.5 384v1M406.5 385v1M407.5 386v1M408.5 387v1M409.5 388v1M410.5 389v1M411.5 390v1M412.5 391v1M413.5 392v1M414.5 393v1M415.5 394v1M416.5 395v1M417.5 396v1M418.5 397v1M419.5 398v1M420.5 399v1M421.5 400v1M422.5 401v1M423.5 402v1M442.5 412v1M443.5 413v1M446.5 415v1M447.5 416v1M487.5 428v3M488.5 421v7M489.5 415v6M490.5 411v4M491.5 407v4M492.5 405v2M493.5 404v1M494.5 403v1M495.5 402v1M505.5 389v9M506.5 369v20M507.5 350v19M508.5 323v27M509.5 288v35M510.5 254v34M511.5 236v1M511.5 238v16M513.5 238v2M514.5 240v2M515.5 242v4M516.5 246v4M517.5 250v4M518.5 254v4M519.5 258v4M520.5 262v4M521.5 266v4M522.5 270v4M523.5 274v4M524.5 278v4M525.5 282v4M526.5 286v3M527.5 289v3M528.5 292v4M529.5 296v3M530.5 299v3M531.5 302v4M532.5 306v3M533.5 309v3M534.5 312v4M535.5 316v3M536.5 319v3M537.5 322v4M538.5 326v3M539.5 329v2M540.5 331v2M541.5 333v2M542.5 335v2M543.5 337v2M544.5 339v2M545.5 341v1M546.5 342v2M547.5 344v2M548.5 346v2M549.5 348v2M550.5 350v2M551.5 352v1M552.5 353v2M553.5 355v2M554.5 357v2M555.5 359v2M556.5 361v2M557.5 363v2M558.5 365v2M559.5 367v2M560.5 369v2M561.5 371v2M562.5 373v1M563.5 374v2M564.5 376v1M565.5 377v1M566.5 378v2M567.5 380v1M568.5 381v2M569.5 383v1M570.5 384v2M571.5 386v1M572.5 387v1M574.5 387v1M574.5 390v1M575.5 381v6M576.5 375v6M577.5 372v3M578.5 370v2M579.5 368v2M610.5 368v4M611.5 360v8M612.5 334v26M613.5 322v12M614.5 316v6M615.5 314v2M616.5 313v1M617.5 312v1M620.5 314v1M623.5 316v1M624.5 317v2M625.5 319v1M626.5 320v2M627.5 322v1M628.5 323v2M629.5 325v1M630.5 326v1M631.5 327v2M632.5 329v1M633.5 330v2M634.5 332v1M635.5 333v2M636.5 335v2M637.5 337v2M638.5 339v1M639.5 340v2M640.5 342v2M641.5 344v2M642.5 346v2M643.5 348v1M644.5 349v2M645.5 351v2M646.5 353v2M647.5 355v1M648.5 356v2M649.5 358v2M650.5 360v1M651.5 361v2M652.5 363v1M653.5 364v2M655.5 368v1M656.5 362v4M657.5 358v4M658.5 356v2M659.5 355v1M660.5 353v2M661.5 352v1M676.5 353v1M681.5 356v1M690.5 360v1M691.5 361v2M692.5 363v1M693.5 364v1M698.5 363v1M699.5 364v2M700.5 366v2M701.5 368v1M702.5 369v2M703.5 371v2M704.5 373v1M705.5 374v1M706.5 375v1M707.5 376v2M708.5 378v1M709.5 379v1M710.5 380v1M711.5 381v1M712.5 382v1M713.5 383v1M714.5 384v2M715.5 386v1M716.5 387v1M717.5 388v1M720.5 390v1M721.5 391v1M757.5 402v1M760.5 404v1M763.5 406v1M767.5 393v15M768.5 362v31M769.5 331v31M770.5 300v31M771.5 269v31M772.5 238v31M773.5 221v17M774.5 219v2M776.5 217v1M777.5 219v2M778.5 221v4M779.5 225v5M780.5 230v5M781.5 235v5M782.5 240v5M783.5 245v5M784.5 250v5M785.5 255v5M786.5 260v5M787.5 265v5M788.5 270v4M789.5 274v5M790.5 279v5M791.5 284v4M792.5 288v4M793.5 292v3M794.5 295v3M795.5 298v4M796.5 302v3M797.5 305v3M798.5 308v3M799.5 311v3M800.5 314v3M801.5 317v3M802.5 320v3M803.5 323v2M804.5 325v3M805.5 328v3M806.5 331v3M807.5 334v3M808.5 337v3M809.5 340v3M810.5 343v2M811.5 345v3M812.5 348v3M813.5 351v3M814.5 354v2M815.5 356v3M816.5 359v3M817.5 362v2M818.5 364v3M819.5 367v2M820.5 369v2M821.5 371v2M822.5 373v2M823.5 375v1M824.5 376v2M825.5 378v2M826.5 380v2M827.5 382v1M828.5 383v2M829.5 385v2M830.5 387v1M831.5 388v2M832.5 390v2M833.5 392v2M834.5 394v1M835.5 395v2M836.5 397v2M837.5 399v2M838.5 401v1M839.5 402v1M840.5 403v1M841.5 404v1M842.5 405v1M843.5 406v1M844.5 407v1M845.5 408v1M846.5 409v1M847.5 410v1M848.5 411v1M851.5 413v1M854.5 415v1M855.5 416v1M858.5 418v1M859.5 417v1M940.5 444v1M941.5 443v1M942.5 441v2M943.5 437v4M944.5 435v2" stroke="#eef23a" stroke-width="1"/>
<path d="M353 581.5h259M353.5 582v25M611.5 582v25" stroke="#40e0d0" stroke-width="1"/>
<rect x="52" y="476" width="185" height="1" fill="#0000ee" stroke="none"/>
<rect x="240" y="476" width="9" height="1" fill="#0000ee" stroke="none"/>
<rect x="482" y="476" width="3" height="1" fill="#0000ee" stroke="none"/>
<rect x="492" y="476" width="74" height="1" fill="#0000ee" stroke="none"/>
<rect x="566" y="475" width="3" height="1" fill="#0000ee" stroke="none"/>
<rect x="569" y="476" width="4" height="1" fill="#0000ee" stroke="none"/>
<rect x="573" y="475" width="12" height="1" fill="#0000ee" stroke="none"/>
<rect x="585" y="474" width="47" height="1" fill="#0000ee" stroke="none"/>
<rect x="632" y="473" width="15" height="1" fill="#0000ee" stroke="none"/>
<rect x="647" y="472" width="53" height="1" fill="#0000ee" stroke="none"/>
<rect x="700" y="471" width="72" height="1" fill="#0000ee" stroke="none"/>
<rect x="772" y="470" width="9" height="1" fill="#0000ee" stroke="none"/>
<rect x="781" y="471" width="72" height="1" fill="#0000ee" stroke="none"/>
<rect x="853" y="472" width="92" height="1" fill="#0000ee" stroke="none"/>
<rect x="52" y="477" width="536" height="1" fill="#5596e6" stroke="none"/>
<rect x="588" y="476" width="357" height="1" fill="#5596e6" stroke="none"/>
<rect x="51.5" y="39.5" width="896" height="567" stroke="#000" stroke-width="1"/>
<rect x="65.5" y="640.5" width="868" height="52" stroke="#000" stroke-width="1"/>
<rect x="240" y="647" width="36" height="1" fill="#ff8c00" stroke="none"/>
<rect x="240" y="660" width="36" height="1" fill="#ffa030" stroke="none"/>
<rect x="240" y="673" width="36" height="1" fill="#ffd2a0" stroke="none"/>
<rect x="240" y="686" width="36" height="1" fill="#ff0000" stroke="none"/>
<rect x="457" y="647" width="36" height="1" fill="#00a020" stroke="none"/>
<rect x="457" y="660" width="36" height="1" fill="#00ff00" stroke="none"/>
<rect x="457" y="673" width="36" height="1" fill="#9048c8" stroke="none"/>
<rect x="457" y="686" width="36" height="1" fill="#e0e0e0" stroke="none"/>
<rect x="674" y="647" width="36" height="1" fill="#000" stroke="none"/>
<rect x="674" y="660" width="36" height="1" fill="#eef23a" stroke="none"/>
<rect x="674" y="673" width="36" height="1" fill="#40e0d0" stroke="none"/>
<rect x="674" y="686" width="36" height="1" fill="#006400" stroke="none"/>
<rect x="891" y="647" width="36" height="1" fill="#0000ee" stroke="none"/>
<rect x="891" y="660" width="36" height="1" fill="#5596e6" stroke="none"/>
</g>
<g style="opacity:0.999">
<text x="499" y="25" text-anchor="middle" fill="#000" stroke="#000" textLength="504" lengthAdjust="spacingAndGlyphs" xml:space="preserve">Brennerstarts pro Stunde und Temperaturen von Donnerstag, den 11.09.2025</text>
<text x="44" y="611" text-anchor="end" fill="#000" stroke="#000" textLength="7" lengthAdjust="spacingAndGlyphs" xml:space="preserve">0</text>
<text x="44" y="548" text-anchor="end" fill="#000" stroke="#000" textLength="14" lengthAdjust="spacingAndGlyphs" xml:space="preserve">10</text>
<text x="44" y="485" text-anchor="end" fill="#000" stroke="#000" textLength="14" lengthAdjust="spacingAndGlyphs" xml:space="preserve">20</text>
<text x="44" y="422" text-anchor="end" fill="#000" stroke="#000" textLength="14" lengthAdjust="spacingAndGlyphs" xml:space="preserve">30</text>
<text x="44" y="359" text-anchor="end" fill="#000" stroke="#000" textLength="14" lengthAdjust="spacingAndGlyphs" xml:space="preserve">40</text>
<text x="44" y="296" text-anchor="end" fill="#000" stroke="#000" textLength="14" lengthAdjust="spacingAndGlyphs" xml:space="preserve">50</text>
<text x="44" y="233" text-anchor="end" fill="#000" stroke="#000" textLength="14" lengthAdjust="spacingAndGlyphs" xml:space="preserve">60</text>
<text x="44" y="170" text-anchor="end" fill="#000" stroke="#000" textLength="14" lengthAdjust="spacingAndGlyphs" xml:space="preserve">70</text>
<text x="44" y="107" text-anchor="end" fill="#000" stroke="#000" textLength="14" lengthAdjust="spacingAndGlyphs" xml:space="preserve">80</text>
<text x="44" y="44" text-anchor="end" fill="#000" stroke="#000" textLength="14" lengthAdjust="spacingAndGlyphs" xml:space="preserve">90</text>
<text x="961" y="516" text-anchor="start" fill="#000" stroke="#000" textLength="14" lengthAdjust="spacingAndGlyphs" xml:space="preserve">50</text>
<text x="961" y="398" text-anchor="start" fill="#000" stroke="#000" textLength="21" lengthAdjust="spacingAndGlyphs" xml:space="preserve">100</text>
<text x="961" y="280" text-anchor="start" fill="#000" stroke="#000" textLength="21" lengthAdjust="spacingAndGlyphs" xml:space="preserve">150</text>
<text x="961" y="162" text-anchor="start" fill="#000" stroke="#000" textLength="21" lengthAdjust="spacingAndGlyphs" xml:space="preserve">200</text>
<text x="961" y="44" text-anchor="start" fill="#000" stroke="#000" textLength="21" lengthAdjust="spacingAndGlyphs" xml:space="preserve">250</text>
<text x="51.5" y="624" text-anchor="middle" fill="#000" stroke="#000" textLength="35" lengthAdjust="spacingAndGlyphs" xml:space="preserve">00:00</text>
<text x="126.5" y="624" text-anchor="middle" fill="#000" stroke="#000" textLength="35" lengthAdjust="spacingAndGlyphs" xml:space="preserve">02:00</text>
<text x="200.5" y="624" text-anchor="middle" fill="#000" stroke="#000" textLength="35" lengthAdjust="spacingAndGlyphs" xml:space="preserve">04:00</text>
<text x="275.5" y="624" text-anchor="middle" fill="#000" stroke="#000" textLength="35" lengthAdjust="spacingAndGlyphs" xml:space="preserve">06:00</text>
<text x="350.5" y="624" text-anchor="middle" fill="#000" stroke="#000" textLength="35" lengthAdjust="spacingAndGlyphs" xml:space="preserve">08:00</text>
<text x="424.5" y="624" text-anchor="middle" fill="#000" stroke="#000" textLength="35" lengthAdjust="spacingAndGlyphs" xml:space="preserve">10:00</text>
<text x="499.5" y="624" text-anchor="middle" fill="#000" stroke="#000" textLength="35" lengthAdjust="spacingAndGlyphs" xml:space="preserve">12:00</text>
<text x="574.5" y="624" text-anchor="middle" fill="#000" stroke="#000" textLength="35" lengthAdjust="spacingAndGlyphs" xml:space="preserve">14:00</text>
<text x="648.5" y="624" text-anchor="middle" fill="#000" stroke="#000" textLength="35" lengthAdjust="spacingAndGlyphs" xml:space="preserve">16:00</text>
<text x="723.5" y="624" text-anchor="middle" fill="#000" stroke="#000" textLength="35" lengthAdjust="spacingAndGlyphs" xml:space="preserve">18:00</text>
<text x="798.5" y="624" text-anchor="middle" fill="#000" stroke="#000" textLength="35" lengthAdjust="spacingAndGlyphs" xml:space="preserve">20:00</text>
<text x="872.5" y="624" text-anchor="middle" fill="#000" stroke="#000" textLength="35" lengthAdjust="spacingAndGlyphs" xml:space="preserve">22:00</text>
<text x="947.5" y="624" text-anchor="middle" fill="#000" stroke="#000" textLength="35" lengthAdjust="spacingAndGlyphs" xml:space="preserve">00:00</text>
<text x="499" y="643" text-anchor="middle" fill="#000" stroke="#000" textLength="28" lengthAdjust="spacingAndGlyphs" xml:space="preserve">Zeit</text>
<text x="16" y="323" text-anchor="middle" fill="#000" stroke="#000" textLength="336" lengthAdjust="spacingAndGlyphs" xml:space="preserve" transform="rotate(-90 16 323)">Temperaturen aller Sensoren (ausser Schornstein)</text>
<text x="1000" y="324" text-anchor="middle" fill="#ff55ff" stroke="#ff55ff" textLength="154" lengthAdjust="spacingAndGlyphs" xml:space="preserve" transform="rotate(-90 1000 324)">Temperatur Schornstein</text>
<text x="232" y="652" text-anchor="end" fill="#000" stroke="#000" textLength="119" lengthAdjust="spacingAndGlyphs" xml:space="preserve">Speicher oben  S2</text>
<text x="232" y="665" text-anchor="end" fill="#000" stroke="#000" textLength="126" lengthAdjust="spacingAndGlyphs" xml:space="preserve">Speicher mitte S11</text>
<text x="232" y="678" text-anchor="end" fill="#000" stroke="#000" textLength="119" lengthAdjust="spacingAndGlyphs" xml:space="preserve">Speicher unten S4</text>
<text x="232" y="691" text-anchor="end" fill="#000" stroke="#000" textLength="119" lengthAdjust="spacingAndGlyphs" xml:space="preserve">Solar       S1,R1</text>
<text x="449" y="652" text-anchor="end" fill="#000" stroke="#000" textLength="119" lengthAdjust="spacingAndGlyphs" xml:space="preserve">Vorlauf HK     S3</text>
<text x="449" y="665" text-anchor="end" fill="#000" stroke="#000" textLength="119" lengthAdjust="spacingAndGlyphs" xml:space="preserve">Ruecklauf HK   S5</text>
<text x="449" y="678" text-anchor="end" fill="#000" stroke="#000" textLength="119" lengthAdjust="spacingAndGlyphs" xml:space="preserve">Aussentemp.   S10</text>
<text x="449" y="691" text-anchor="end" fill="#000" stroke="#000" textLength="119" lengthAdjust="spacingAndGlyphs" xml:space="preserve">Oel Kessel     S6</text>
<text x="666" y="652" text-anchor="end" fill="#000" stroke="#000" textLength="140" lengthAdjust="spacingAndGlyphs" xml:space="preserve">Grundofen    S12,R10</text>
<text x="666" y="665" text-anchor="end" fill="#000" stroke="#000" textLength="140" lengthAdjust="spacingAndGlyphs" xml:space="preserve">Zirkulation    S9,R7</text>
<text x="666" y="678" text-anchor="end" fill="#000" stroke="#000" textLength="140" lengthAdjust="spacingAndGlyphs" xml:space="preserve">3WV Speicher      R2</text>
<text x="666" y="691" text-anchor="end" fill="#000" stroke="#000" textLength="105" lengthAdjust="spacingAndGlyphs" xml:space="preserve">3WV Heizung  R9</text>
<text x="883" y="652" text-anchor="end" fill="#000" stroke="#000" textLength="168" lengthAdjust="spacingAndGlyphs" xml:space="preserve">Grundofen RL warm    S13</text>
<text x="883" y="665" text-anchor="end" fill="#000" stroke="#000" textLength="168" lengthAdjust="spacingAndGlyphs" xml:space="preserve">Grundofen VL kalt    S14</text>
</g>
</svg></body></html>
